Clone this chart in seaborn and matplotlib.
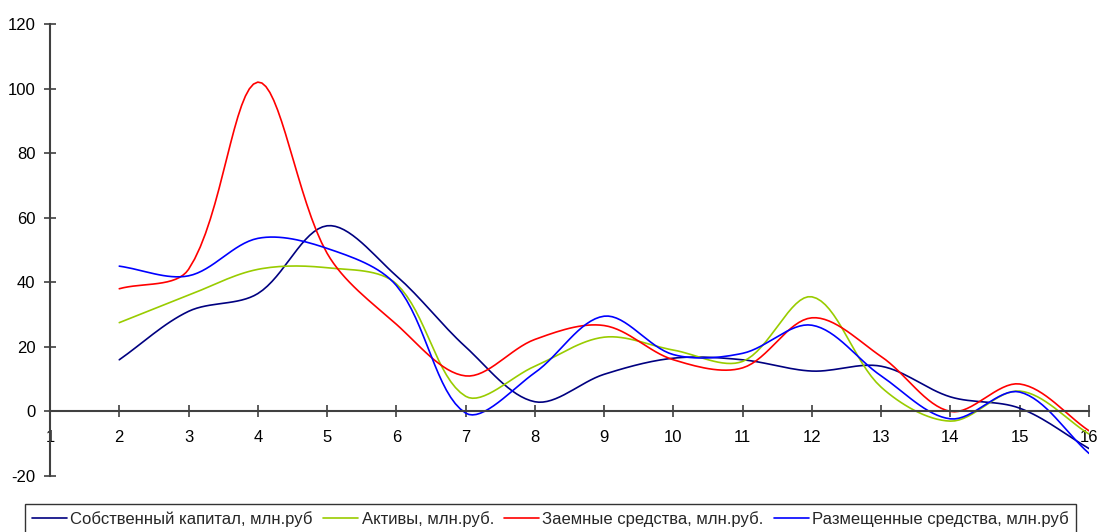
import numpy as np
import pandas as pd
import matplotlib
matplotlib.use("Agg")
import matplotlib.pyplot as plt
import seaborn as sns

# Periods and indicator values
periods = [2, 3, 4, 5, 6, 7, 8, 9, 10, 11, 12, 13, 14, 15, 16]
equity = [16, 31, 36.5, 57.5, 42, 20, 3, 11.5, 16.5, 16, 12.5, 14, 4.5, 1, -11.5]
assets = [27.5, 36, 44, 44.5, 39.5, 4.7, 14, 23, 19, 15.5, 35.5, 7.5, -3, 6.3, -7]
borrowed = [38, 44, 102, 49, 27, 11, 22.3, 26.6, 16, 13.5, 29, 17, 0, 8.5, -6]
placed = [45, 42, 53.6, 50.5, 39, -0.5, 12, 29.5, 17.6, 18, 26.7, 11, -2.3, 6, -13]

series_names = [
    "Собственный капитал, млн.руб",
    "Активы, млн.руб.",
    "Заемные средства, млн.руб.",
    "Размещенные средства, млн.руб",
]
series_values = [equity, assets, borrowed, placed]
colors = ["#000080", "#99CC00", "#FF0000", "#0000FF"]

x_ticks = list(range(1, 17))
y_ticks = list(range(-20, 121, 20))

# approximate screen scale (px per data unit) used to shape the smoothing arms
SX, SY = 69.3, 3.233


def smooth(xs, ys, steps=16):
    """Bezier smoothing through every point; arm lengths follow the
    neighbouring segment lengths so short segments do not overshoot."""
    p = np.column_stack([np.asarray(xs) * SX, np.asarray(ys) * SY]).astype(float)
    n = len(p)
    c_in = np.zeros_like(p)
    c_out = np.zeros_like(p)
    for i in range(n):
        prev_p = p[max(i - 1, 0)]
        next_p = p[min(i + 1, n - 1)]
        tang = next_p - prev_p
        d1 = np.linalg.norm(p[i] - prev_p)
        d2 = np.linalg.norm(next_p - p[i])
        tot = d1 + d2 if d1 + d2 > 0 else 1.0
        if i == 0 or i == n - 1:
            c_in[i] = p[i] - tang / 3.0
            c_out[i] = p[i] + tang / 3.0
        else:
            c_in[i] = p[i] - tang * (d1 / tot) / 3.0
            c_out[i] = p[i] + tang * (d2 / tot) / 3.0
    out = [p[0]]
    t = np.linspace(0, 1, steps + 1)[1:]
    for i in range(n - 1):
        a, b, c, d = p[i], c_out[i], c_in[i + 1], p[i + 1]
        for tt in t:
            out.append(((1 - tt) ** 3) * a + 3 * ((1 - tt) ** 2) * tt * b
                       + 3 * (1 - tt) * tt ** 2 * c + tt ** 3 * d)
    out = np.array(out)
    return out[:, 0] / SX, out[:, 1] / SY


rows = []
for name, vals in zip(series_names, series_values):
    sx, sy = smooth(periods, vals)
    for k, (a, b) in enumerate(zip(sx, sy)):
        rows.append({"order": k, "x": a, "y": b, "series": name})
df = pd.DataFrame(rows)

sns.set_theme(style="white")
plt.rcParams["font.family"] = ["Liberation Sans", "DejaVu Sans"]
plt.rcParams["axes.unicode_minus"] = False

fig = plt.figure(figsize=(11.01, 5.32), dpi=100)
ax = fig.add_axes([50 / 1101, 56 / 532, (1089 - 50) / 1101, (476 - 24) / 532])

sns.lineplot(
    data=df, x="x", y="y", hue="series", hue_order=series_names,
    palette=colors, estimator=None, sort=False, units="series",
    linewidth=1.2, ax=ax, legend=False,
)

ax.set_xlim(1, 16)
ax.set_ylim(-20, 120)
ax.set_xticks(x_ticks)
ax.set_yticks(y_ticks)
ax.set_xlabel("")
ax.set_ylabel("")

axis_color = "#404040"
for side in ["top", "right"]:
    ax.spines[side].set_visible(False)
ax.spines["bottom"].set_position(("data", 0))
for side in ["left", "bottom"]:
    ax.spines[side].set_color(axis_color)
    ax.spines[side].set_linewidth(1.5)
ax.tick_params(axis="both", direction="inout", length=9, width=1.2,
               color=axis_color, labelsize=12, labelcolor="black",
               bottom=True, left=True)
ax.tick_params(axis="y", pad=6)
ax.tick_params(axis="x", pad=9)
ax.grid(False)

handles = [plt.Line2D([], [], color=c, linewidth=1.2) for c in colors]
leg = fig.legend(
    handles, series_names, loc="lower left", ncol=4,
    bbox_to_anchor=(25 / 1101, -2 / 532),
    fontsize=12, frameon=True, fancybox=False,
    handlelength=2.1, handletextpad=0.2, columnspacing=0.62,
    borderaxespad=0, borderpad=0.42,
)
leg.get_frame().set_edgecolor("black")
leg.get_frame().set_linewidth(1.0)

fig.savefig("out.png", dpi=100)
